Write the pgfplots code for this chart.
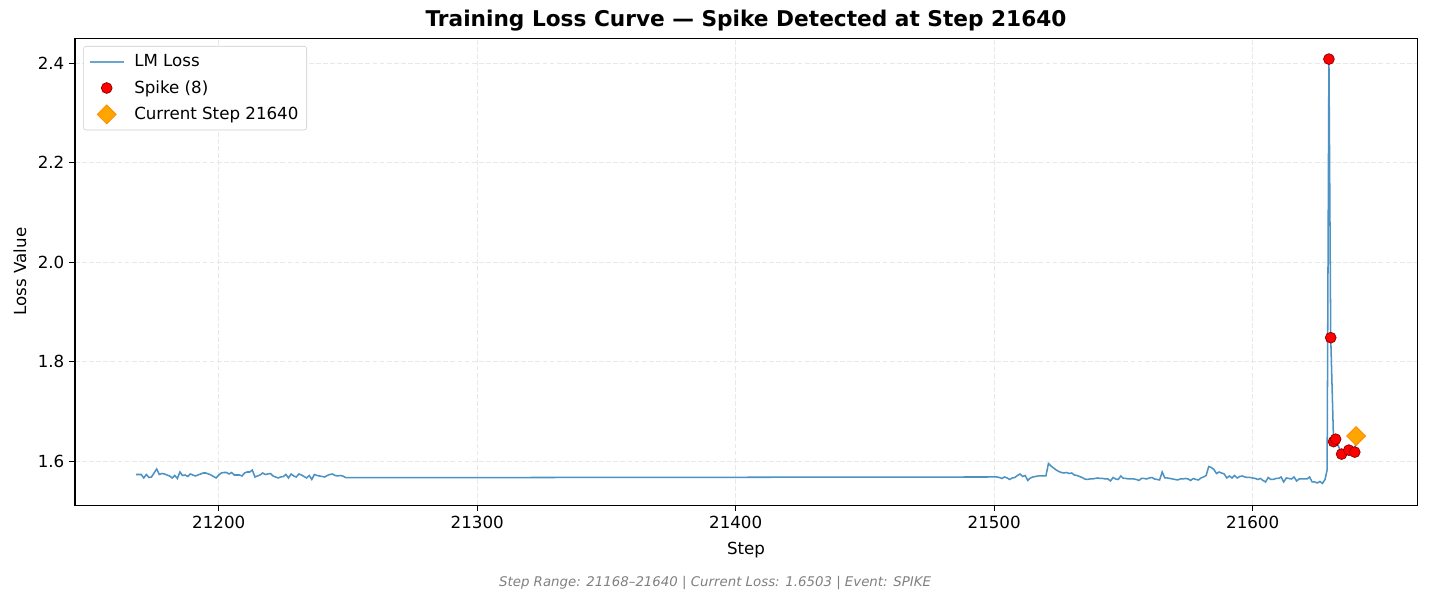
\documentclass[border=0pt]{standalone}
\usepackage{fontspec}
\setmainfont{DejaVu Sans}
\usepackage{pgfplots}
\pgfplotsset{compat=1.18}

\definecolor{lossblue}{HTML}{1F77B4}
\definecolor{spikered}{HTML}{FF0000}
\definecolor{spikeedge}{HTML}{8B0000}
\definecolor{curorange}{HTML}{FFA500}
\definecolor{curedge}{HTML}{FF8C00}

\pgfplotsset{
    lineleg/.style={legend image code/.code={\draw[draw=lossblue!82!white, line width=1.2pt] (0cm,0cm) -- (0.86cm,0cm);}},
    markleg/.style={legend image code/.code={\draw[##1] plot coordinates {(0.43cm,0cm)};}},
}

\begin{document}
\begin{tikzpicture}
\path[use as bounding box] (-54pt,-69.8pt) rectangle (974.8pt,363.6pt);
\begin{axis}[
    at={(0pt,0pt)}, anchor=south west,
    scale only axis,
    width=966.2pt, height=336.2pt,
    xmin=21144.4, xmax=21663.6,
    ymin=1.5116, ymax=2.4503,
    xtick={21200,21300,21400,21500,21600},
    ytick={1.6,1.8,2.0,2.2,2.4},
    scaled x ticks=false,
    xtick pos=left, ytick pos=left,
    tick align=outside,
    major tick length=4.2pt,
    tick style={line width=0.8pt, black},
    axis line style={line width=0.75pt},
    /pgf/number format/assume math mode=true,
    xticklabel style={/pgf/number format/.cd, fixed, precision=0, 1000 sep={}, /tikz/.cd, font=\fontsize{12}{14}\selectfont},
    yticklabel style={/pgf/number format/.cd, fixed, fixed zerofill, precision=1, /tikz/.cd, font=\fontsize{12}{14}\selectfont},
    grid=major,
    major grid style={line width=0.7pt, draw=black!9, dash pattern=on 3.5pt off 1.6pt},
    title={Training Loss Curve — Spike Detected at Step 21640},
    title style={at={(axis description cs:0.5,1.0185)}, anchor=center, font=\fontsize{15.6}{18}\selectfont\bfseries},
    xlabel={Step},
    xlabel style={at={(axis description cs:0.5,-0.0964)}, anchor=center, font=\fontsize{12}{14}\selectfont},
    ylabel={Loss Value},
    ylabel style={at={(axis description cs:-0.041,0.5)}, anchor=center, font=\fontsize{12}{14}\selectfont},
    legend style={at={(axis description cs:0.006,0.983)}, anchor=north west,
        draw=black!20, rounded corners=2pt, fill=white,
        font=\fontsize{12}{14}\selectfont, row sep=4.5pt, column sep=5pt, inner xsep=4pt, inner ysep=4pt},
    legend cell align=left,
]

% LM loss curve
\addplot[color=lossblue, opacity=0.8, line width=1.1pt, lineleg]
coordinates {
(21168,1.573) (21169,1.573) (21170,1.573) (21171,1.566) (21172,1.573)
(21173,1.567) (21174,1.568) (21175,1.576) (21176,1.584) (21177,1.573)
(21178,1.575) (21179,1.574) (21180,1.572) (21181,1.570) (21182,1.566)
(21183,1.571) (21184,1.565) (21185,1.578) (21186,1.571) (21187,1.572)
(21188,1.569) (21189,1.574) (21190,1.572) (21191,1.570) (21192,1.572)
(21193,1.574) (21194,1.576) (21195,1.576) (21196,1.574) (21197,1.572)
(21198,1.569) (21199,1.566) (21200,1.572) (21201,1.576) (21202,1.577)
(21203,1.577) (21204,1.574) (21205,1.577) (21206,1.572) (21207,1.572)
(21208,1.572) (21209,1.570) (21210,1.576) (21211,1.578) (21212,1.578)
(21213,1.582) (21214,1.568) (21215,1.570) (21216,1.572) (21217,1.576)
(21218,1.573) (21219,1.574) (21220,1.575) (21221,1.570) (21222,1.568)
(21223,1.566) (21224,1.568) (21225,1.569) (21226,1.573) (21227,1.566)
(21228,1.574) (21229,1.570) (21230,1.568) (21231,1.574) (21232,1.572)
(21233,1.569) (21234,1.566) (21235,1.571) (21236,1.563) (21237,1.573)
(21238,1.571) (21239,1.570) (21240,1.569) (21241,1.568) (21242,1.571)
(21243,1.573) (21244,1.574) (21245,1.571) (21246,1.570) (21247,1.571)
(21248,1.570) (21249,1.567) (21250,1.5665)
(21500,1.568) (21501,1.568) (21502,1.567) (21503,1.565) (21504,1.568)
(21505,1.566) (21506,1.563) (21507,1.566) (21508,1.567) (21509,1.571)
(21510,1.574) (21511,1.569) (21512,1.571) (21513,1.561) (21514,1.566)
(21515,1.568) (21516,1.569) (21517,1.570) (21518,1.570) (21519,1.570)
(21520,1.570) (21521,1.595) (21522,1.590) (21523,1.586) (21524,1.582)
(21525,1.579) (21526,1.577) (21527,1.576) (21528,1.577) (21529,1.575)
(21530,1.576) (21531,1.572) (21532,1.571) (21533,1.569) (21534,1.567)
(21535,1.564) (21536,1.563) (21537,1.564) (21538,1.564) (21539,1.565)
(21540,1.566) (21541,1.565) (21542,1.565) (21543,1.564) (21544,1.564)
(21545,1.560) (21546,1.567) (21547,1.564) (21548,1.563) (21549,1.570)
(21550,1.565) (21551,1.565) (21552,1.564) (21553,1.564) (21554,1.564)
(21555,1.563) (21556,1.561) (21557,1.565) (21558,1.565) (21559,1.564)
(21560,1.566) (21561,1.567) (21562,1.564) (21563,1.563) (21564,1.562)
(21565,1.578) (21566,1.566) (21567,1.566) (21568,1.565) (21569,1.564)
(21570,1.563) (21571,1.562) (21572,1.564) (21573,1.564) (21574,1.565)
(21575,1.564) (21576,1.561) (21577,1.565) (21578,1.563) (21579,1.562)
(21580,1.566) (21581,1.568) (21582,1.571) (21583,1.589) (21584,1.587)
(21585,1.583) (21586,1.575) (21587,1.578) (21588,1.576) (21589,1.574)
(21590,1.566) (21591,1.570) (21592,1.566) (21593,1.571) (21594,1.566)
(21595,1.569) (21596,1.570) (21597,1.568) (21598,1.567) (21599,1.567)
(21600,1.566) (21601,1.565) (21602,1.563) (21603,1.565) (21604,1.561)
(21605,1.558) (21606,1.567) (21607,1.563) (21608,1.563) (21609,1.565)
(21610,1.565) (21611,1.568) (21612,1.558) (21613,1.566) (21614,1.565)
(21615,1.564) (21616,1.568) (21617,1.560) (21618,1.564) (21619,1.564)
(21620,1.564) (21621,1.564) (21622,1.568) (21623,1.558) (21624,1.558)
(21625,1.556) (21626,1.559) (21627,1.555) (21628,1.563) (21628.8,1.582)
(21629.5,2.408) (21630.2,1.848) (21631.3,1.639) (21632.1,1.644)
(21634.4,1.614) (21637.2,1.622) (21639.5,1.618) (21640,1.6503)
};
\addlegendentry{LM Loss}

% detected spikes
\addplot[only marks, mark=*, mark size=3.9pt,
    mark options={fill=spikered, draw=spikeedge, line width=0.5pt}, markleg]
coordinates {
(21629.5,2.408) (21630.2,1.848) (21631.3,1.639) (21632.1,1.644)
(21634.4,1.614) (21637.2,1.622) (21639.5,1.618) (21640,1.6503)
};
\addlegendentry{Spike (8)}

% current step
\addplot[only marks, mark=square*, mark size=4.8pt,
    mark options={rotate=45, fill=curorange, draw=curedge, line width=0.6pt}, markleg]
coordinates {(21640,1.6503)};
\addlegendentry{Current Step 21640}

\end{axis}
\node[font=\fontsize{9.6}{11}\selectfont\itshape, text=black!50] at (460.8pt,-56.2pt)
    {Step Range: 21168–21640 | Current Loss: 1.6503 | Event: SPIKE};
\end{tikzpicture}
\end{document}
